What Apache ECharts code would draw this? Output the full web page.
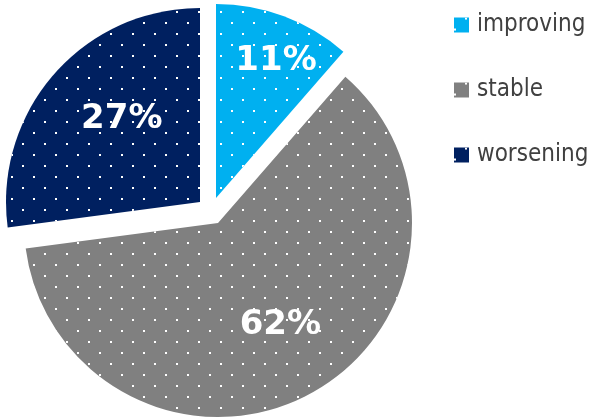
<!DOCTYPE html>
<html>
<head>
<meta charset="utf-8">
<script src="https://cdn.jsdelivr.net/npm/echarts@6/dist/echarts.min.js"></script>
<style>
html,body{margin:0;padding:0;background:#fff;}
#chart{width:592px;height:420px;}
</style>
</head>
<body>
<div id="chart"></div>
<script>
const categories = ['improving', 'stable', 'worsening'];
const values = [11.4, 61.5, 27.1];
const colors = ['#00B0F0', '#808080', '#002060'];

// exploded slice centres (each slice pulled out from the pie centre)
const sliceCenters = [[216, 198], [218, 223], [200, 202]];
const labelShift = [[25, -43], [15, 14], [-3, -17]];

function makeDecal() {
  return {
    symbol: 'rect',
    symbolSize: 1,
    color: '#ffffff',
    dashArrayX: [[2, 20], [0, 11, 2, 9]],
    dashArrayY: [2, 9],
    rotation: 0
  };
}

const seriesList = categories.map((cat, k) => ({
  type: 'pie',
  name: cat,
  center: sliceCenters[k],
  radius: [0, 194],
  startAngle: 90,
  clockwise: true,
  silent: true,
  avoidLabelOverlap: false,
  emphasis: { disabled: true },
  labelLine: { show: false },
  labelLayout: function (params) {
    const s = labelShift[params.dataIndex];
    return { dx: s[0], dy: s[1] };
  },
  data: categories.map((c, i) => ({
    name: c,
    value: values[i],
    itemStyle: i === k
      ? { color: colors[i], borderWidth: 0, decal: makeDecal() }
      : { color: 'rgba(0,0,0,0)', borderWidth: 0 },
    label: {
      show: i === k,
      position: 'inside',
      color: '#ffffff',
      fontFamily: '"DejaVu Sans", sans-serif',
      fontWeight: 'bold',
      fontSize: 34,
      formatter: p => Math.round(p.value) + '%'
    }
  }))
}));

const chart = echarts.init(document.getElementById('chart'), null, {renderer: 'canvas'});
chart.setOption({
  animation: false,
  legend: {
    orient: 'vertical',
    left: 454,
    top: 13,
    padding: 0,
    icon: 'rect',
    itemWidth: 15,
    itemHeight: 15,
    itemGap: 41,
    selectedMode: false,
    textStyle: {
      fontFamily: '"DejaVu Sans Condensed", "DejaVu Sans", sans-serif',
      fontSize: 24,
      lineHeight: 24,
      color: '#404040',
      padding: [0, 0, 0, 3]
    },
    data: categories.map((c, i) => ({
      name: c,
      itemStyle: { color: colors[i], decal: makeDecal() }
    }))
  },
  series: seriesList
});
</script>
</body>
</html>
